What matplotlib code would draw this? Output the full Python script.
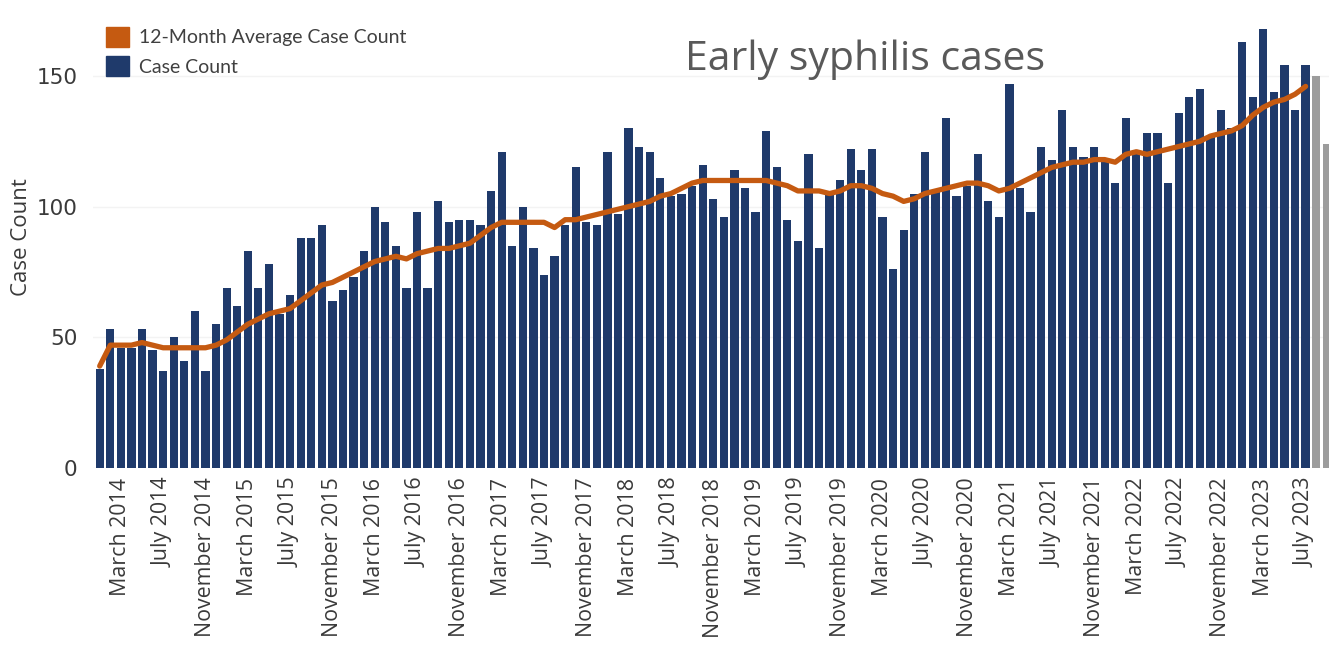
import matplotlib.pyplot as plt
from matplotlib.patches import Patch
import numpy as np

plt.rcParams['font.family'] = ['Lato', 'DejaVu Sans']

# monthly early syphilis case counts, Jan 2014 - Sep 2023 (last two provisional)
case_counts = [
    38, 53, 46, 46, 53, 45, 37, 50, 41, 60, 37, 55,
    69, 62, 83, 69, 78, 59, 66, 88, 88, 93, 64, 68,
    73, 83, 100, 94, 85, 69, 98, 69, 102, 94, 95, 95,
    93, 106, 121, 85, 100, 84, 74, 81, 93, 115, 94, 93,
    121, 97, 130, 123, 121, 111, 104, 105, 108, 116, 103, 96,
    114, 107, 98, 129, 115, 95, 87, 120, 84, 105, 110, 122,
    114, 122, 96, 76, 91, 105, 121, 106, 134, 104, 108, 120,
    102, 96, 147, 107, 98, 123, 118, 137, 123, 119, 123, 117,
    109, 134, 121, 128, 128, 109, 136, 142, 145, 127, 137, 130,
    163, 142, 168, 144, 154, 137, 154,
]
provisional_counts = [150, 124]

avg_12m = [
    39, 47, 47, 47, 48, 47, 46, 46, 46, 46, 46, 47,
    49, 52, 55, 57, 59, 60, 61, 64, 67, 70, 71, 73,
    75, 77, 79, 80, 81, 80, 82, 83, 84, 84, 85, 86,
    89, 92, 94, 94, 94, 94, 94, 92, 95, 95, 96, 97,
    98, 99, 100, 101, 102, 104, 105, 107, 109, 110, 110, 110,
    110, 110, 110, 110, 109, 108, 106, 106, 106, 105, 106, 108,
    108, 107, 105, 104, 102, 103, 105, 106, 107, 108, 109, 109,
    108, 106, 107, 109, 111, 113, 115, 116, 117, 117, 118, 118,
    117, 120, 121, 120, 121, 122, 123, 124, 125, 127, 128, 129,
    131, 135, 138, 140, 141, 143, 146,
]

tick_labels = [
    'March 2014', 'July 2014', 'November 2014',
    'March 2015', 'July 2015', 'November 2015',
    'March 2016', 'July 2016', 'November 2016',
    'March 2017', 'July 2017', 'November 2017',
    'March 2018', 'July 2018', 'November 2018',
    'March 2019', 'July 2019', 'November 2019',
    'March 2020', 'July 2020', 'November 2020',
    'March 2021', 'July 2021', 'November 2021',
    'March 2022', 'July 2022', 'November 2022',
    'March 2023', 'July 2023',
]

blue = '#1f3a6b'
orange = '#c55a11'
grey = '#9c9c9c'
text_col = '#3a3a3a'

W, H = 1329, 647
fig = plt.figure(figsize=(W / 100, H / 100), dpi=100)
ax = fig.add_axes([93 / W, 1 - 468 / H, (1329 - 93) / W, (468 - 20) / H])

n = len(case_counts)
x = np.arange(n)
xp = np.arange(n, n + len(provisional_counts))

ax.bar(x, case_counts, width=0.78, color=blue, zorder=2)
ax.bar(xp, provisional_counts, width=0.78, color=grey, zorder=2)
ax.plot(x, avg_12m, color=orange, lw=3.8, zorder=3, solid_capstyle='round')

ax.set_xlim(-0.633, 116.21)
ax.set_ylim(0, 171.4)
ax.set_yticks([0, 50, 100, 150])
ax.set_xticks(np.arange(2, n, 4))
ax.set_xticklabels(tick_labels, rotation=90, ha='center', va='top',
                   family=['Open Sans', 'DejaVu Sans'])
ax.tick_params(axis='x', length=0, pad=7, labelsize=15.4, labelcolor=text_col)
ax.tick_params(axis='y', length=0, pad=11, labelsize=15.5, labelcolor=text_col)
for lab in ax.get_yticklabels():
    lab.set_family(['DejaVu Sans'])
ax.grid(axis='y', color='#f3f3f3', lw=1, zorder=0)
for s in ax.spines.values():
    s.set_visible(False)

fig.text(22 / W, 1 - 237 / H, 'Case Count', rotation=90, ha='center',
         va='center', fontsize=16, color=text_col, family=['Open Sans', 'DejaVu Sans'])

fig.text(685 / W, 1 - 70 / H, 'Early syphilis cases', fontsize=29.5,
         color='#595959', ha='left', va='baseline', family=['Open Sans', 'DejaVu Sans'])

handles = [Patch(color=orange, label='12-Month Average Case Count'),
           Patch(color=blue, label='Case Count')]
fig.legend(handles=handles, loc='upper left', bbox_to_anchor=(106 / W, 1 - 27 / H),
           frameon=False, fontsize=14, handlelength=1.18, handleheight=1.18,
           handletextpad=0.5, labelspacing=0.5, borderpad=0, borderaxespad=0,
           labelcolor='#404040')

fig.savefig('out.png', dpi=100)
